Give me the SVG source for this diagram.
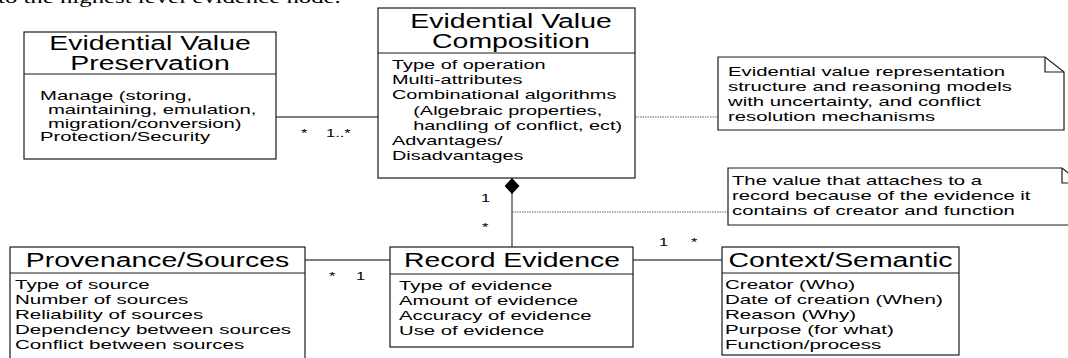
<svg xmlns="http://www.w3.org/2000/svg" width="1068" height="358" viewBox="0 0 1068 358">
<style>
  .box{fill:#fff;stroke:#1a1a1a;stroke-width:1.2}
  .div{stroke:#1a1a1a;stroke-width:1.2}
  .note{fill:#fff;stroke:#1a1a1a;stroke-width:1.2}
  .fold{fill:none;stroke:#1a1a1a;stroke-width:1.2}
  .assoc{fill:none;stroke:#555;stroke-width:1.4}
  .dot{fill:none;stroke:#666;stroke-width:1;stroke-dasharray:1.5 1}
  text{font-family:"Liberation Sans",Arial,sans-serif;fill:#000}
  .t{font-size:20px;text-anchor:middle}
  .b{font-size:13px}
  .m{font-size:11px}
  .cap{font-family:"Liberation Serif","Times New Roman",serif;font-size:16px}
</style>
<defs>
  <marker id="diamond" markerUnits="userSpaceOnUse" viewBox="0 0 16 15" markerWidth="16" markerHeight="15" refX="16" refY="7.5" orient="auto">
    <path d="M0,7.5 L8,0 L16,7.5 L8,15 Z" fill="#000"/>
  </marker>
</defs>

<text class="cap" transform="translate(-2,3) scale(1.55,1)">to the highest level evidence node.</text>

<g id="connectors">
  <path class="assoc" d="M276,117 H378"/>
  <path class="dot" d="M635,117 H718"/>
  <path class="assoc" d="M512,247 V178" marker-end="url(#diamond)"/>
  <path class="dot" d="M512,212 H728"/>
  <path class="assoc" d="M305,260 H390"/>
  <path class="assoc" d="M633,260 H722"/>
  <text class="m" transform="translate(301,137) scale(1.5,1)">*</text>
  <text class="m" transform="translate(326,137) scale(1.5,1)">1..*</text>
  <text class="m" transform="translate(481,202) scale(1.5,1)">1</text>
  <text class="m" transform="translate(482,231) scale(1.5,1)">*</text>
  <text class="m" transform="translate(659,246) scale(1.5,1)">1</text>
  <text class="m" transform="translate(691,246) scale(1.5,1)">*</text>
  <text class="m" transform="translate(329,280) scale(1.5,1)">*</text>
  <text class="m" transform="translate(356,280) scale(1.5,1)">1</text>
</g>

<g id="n-preservation">
  <rect class="box" x="24" y="32" width="252" height="127"/>
  <line class="div" x1="24" y1="74" x2="276" y2="74"/>
  <text class="t" transform="translate(150,50) scale(1.42,1)"><tspan x="0">Evidential Value</tspan><tspan x="0" dy="20">Preservation</tspan></text>
  <text class="b" transform="translate(40,100) scale(1.56,1)"><tspan x="0">Manage (storing,</tspan><tspan x="5.1" dy="13.8">maintaining, emulation,</tspan><tspan x="5.1" dy="13.8">migration/conversion)</tspan><tspan x="0" dy="13.8">Protection/Security</tspan></text>
</g>

<g id="n-composition">
  <rect class="box" x="378" y="8" width="257" height="170"/>
  <line class="div" x1="378" y1="53" x2="635" y2="53"/>
  <text class="t" transform="translate(511,28) scale(1.42,1)"><tspan x="0">Evidential Value</tspan><tspan x="0" dy="20">Composition</tspan></text>
  <text class="b" transform="translate(392,69) scale(1.53,1)"><tspan x="0">Type of operation</tspan><tspan x="0" dy="15.2">Multi-attributes</tspan><tspan x="0" dy="15.2">Combinational algorithms</tspan><tspan x="13.9" dy="15.2">(Algebraic properties,</tspan><tspan x="13.9" dy="15.2">handling of conflict, ect)</tspan><tspan x="0" dy="15.2">Advantages/</tspan><tspan x="0" dy="15.2">Disadvantages</tspan></text>
</g>

<g id="n-note1">
  <path class="note" d="M718,57 H1045 L1064,72 V130 H718 Z"/>
  <path class="fold" d="M1045,57 V72 H1064"/>
  <text class="b" transform="translate(728,76) scale(1.56,1)"><tspan x="0">Evidential value representation</tspan><tspan x="0" dy="15">structure and reasoning models</tspan><tspan x="0" dy="15">with uncertainty, and conflict</tspan><tspan x="0" dy="15">resolution mechanisms</tspan></text>
</g>

<g id="n-note2">
  <path class="note" d="M728,168 H1062 L1081,183 V225 H728 Z"/>
  <path class="fold" d="M1062,168 V183 H1081"/>
  <text class="b" transform="translate(732,185) scale(1.56,1)"><tspan x="0">The value that attaches to a</tspan><tspan x="0" dy="15">record because of the evidence it</tspan><tspan x="0" dy="15">contains of creator and function</tspan></text>
</g>

<g id="n-provenance">
  <rect class="box" x="10" y="247" width="295" height="125"/>
  <line class="div" x1="10" y1="273" x2="305" y2="273"/>
  <text class="t" transform="translate(157.5,267) scale(1.42,1)">Provenance/Sources</text>
  <text class="b" transform="translate(15,289) scale(1.58,1)"><tspan x="0">Type of source</tspan><tspan x="0" dy="15">Number of sources</tspan><tspan x="0" dy="15">Reliability of sources</tspan><tspan x="0" dy="15">Dependency between sources</tspan><tspan x="0" dy="15">Conflict between sources</tspan></text>
</g>

<g id="n-record">
  <rect class="box" x="390" y="247" width="243" height="100"/>
  <line class="div" x1="390" y1="274" x2="633" y2="274"/>
  <text class="t" transform="translate(512,267) scale(1.42,1)">Record Evidence</text>
  <text class="b" transform="translate(399,290) scale(1.56,1)"><tspan x="0">Type of evidence</tspan><tspan x="0" dy="15">Amount of evidence</tspan><tspan x="0" dy="15">Accuracy of evidence</tspan><tspan x="0" dy="15">Use of evidence</tspan></text>
</g>

<g id="n-context">
  <rect class="box" x="722" y="247" width="237" height="108"/>
  <line class="div" x1="722" y1="273" x2="959" y2="273"/>
  <text class="t" transform="translate(840.5,267) scale(1.42,1)">Context/Semantic</text>
  <text class="b" transform="translate(725,289) scale(1.58,1)"><tspan x="0">Creator (Who)</tspan><tspan x="0" dy="15">Date of creation (When)</tspan><tspan x="0" dy="15">Reason (Why)</tspan><tspan x="0" dy="15">Purpose (for what)</tspan><tspan x="0" dy="15">Function/process</tspan></text>
</g>
</svg>
